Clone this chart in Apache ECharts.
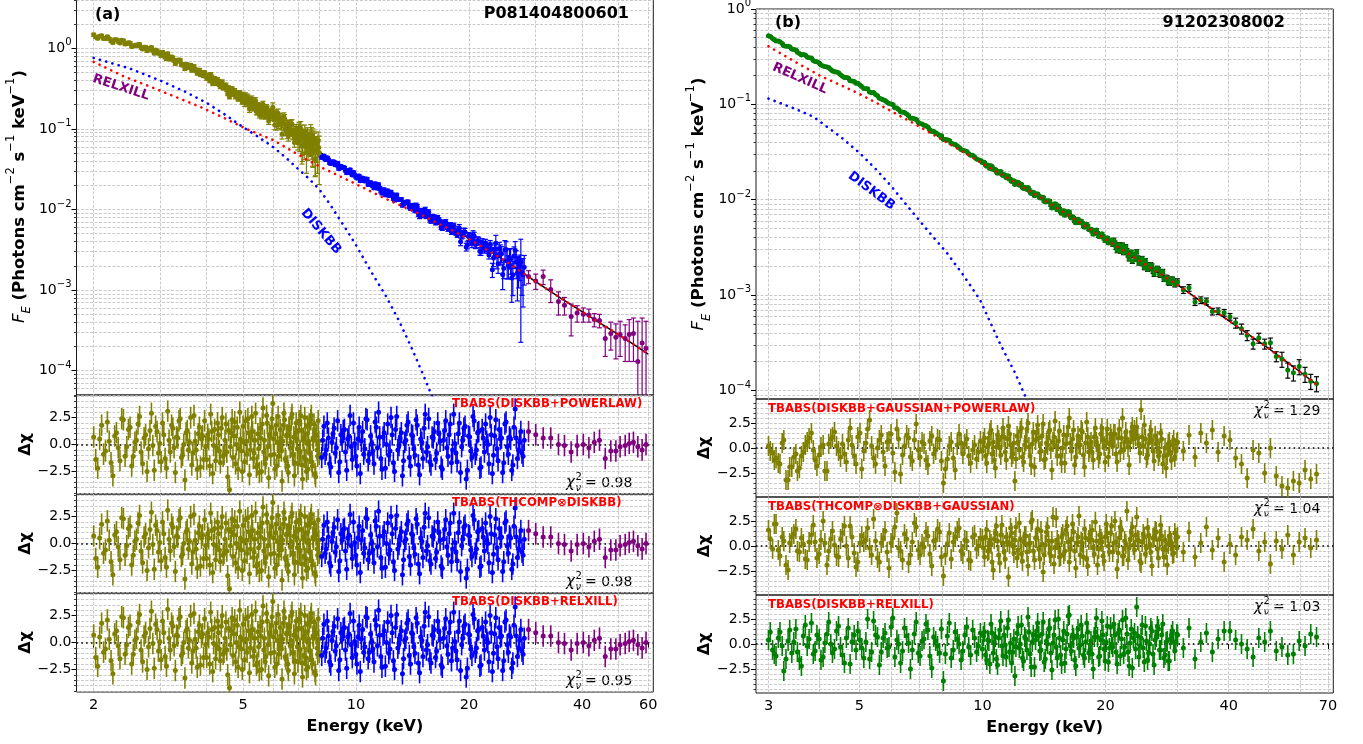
<!DOCTYPE html>
<html>
<head>
<meta charset="utf-8">
<title>Broadband spectra and fit residuals</title>
<script src="https://cdn.jsdelivr.net/npm/echarts@6/dist/echarts.min.js"></script>
<style>
  html, body { margin: 0; padding: 0; background: #ffffff; }
  #chart { width: 1363px; height: 744px; }
</style>
</head>
<body>
<div id="chart"></div>
<script>
// ===================== Panel (a): P081404800601 =====================
// Low-energy spectrum (olive): energy in keV, flux in photons cm^-2 s^-1 keV^-1
const A_OLIVE_E = [
  2.000,2.025,2.050,2.075,2.100,2.125,2.150,2.175,2.200,2.225,2.250,2.275,2.300,2.325,2.350,2.375,2.400,2.425,2.450,2.475,
  2.500,2.525,2.550,2.575,2.600,2.625,2.650,2.675,2.700,2.725,2.750,2.775,2.800,2.825,2.850,2.875,2.900,2.925,2.950,2.975,
  3.000,3.025,3.050,3.075,3.100,3.125,3.150,3.175,3.200,3.225,3.250,3.275,3.300,3.325,3.350,3.375,3.400,3.425,3.450,3.475,
  3.500,3.525,3.550,3.575,3.600,3.625,3.650,3.675,3.700,3.725,3.750,3.775,3.800,3.825,3.850,3.875,3.900,3.925,3.950,3.975,
  4.000,4.025,4.050,4.075,4.100,4.125,4.150,4.175,4.200,4.225,4.250,4.275,4.300,4.325,4.350,4.375,4.400,4.425,4.450,4.475,
  4.500,4.525,4.550,4.575,4.600,4.625,4.650,4.675,4.700,4.725,4.750,4.775,4.800,4.825,4.850,4.875,4.900,4.925,4.950,4.975,
  5.000,5.025,5.050,5.075,5.100,5.125,5.150,5.175,5.200,5.225,5.250,5.275,5.300,5.325,5.350,5.375,5.400,5.425,5.450,5.475,
  5.500,5.525,5.550,5.575,5.600,5.625,5.650,5.675,5.700,5.725,5.750,5.775,5.800,5.825,5.850,5.875,5.900,5.925,5.950,5.975,
  6.000,6.025,6.050,6.075,6.100,6.125,6.150,6.175,6.200,6.225,6.250,6.275,6.300,6.325,6.350,6.375,6.400,6.425,6.450,6.475,
  6.500,6.525,6.550,6.575,6.600,6.625,6.650,6.675,6.700,6.725,6.750,6.775,6.800,6.825,6.850,6.875,6.900,6.925,6.950,6.975,
  7.000,7.025,7.050,7.075,7.100,7.125,7.150,7.175,7.200,7.225,7.250,7.275,7.300,7.325,7.350,7.375,7.400,7.425,7.450,7.475,
  7.500,7.525,7.550,7.575,7.600,7.625,7.650,7.675,7.700,7.725,7.750,7.775,7.800,7.825,7.850,7.875,7.900,7.925,7.950,7.975];
const A_OLIVE_F = [
  1.475,1.38,1.332,1.407,1.432,1.325,1.32,1.389,1.31,1.23,1.178,1.28,1.274,1.216,1.165,1.261,1.243,1.128,1.144,1.175,
  1.165,1.052,1.065,1.087,1.081,1.11,1.118,1.02,0.981,1.031,1.028,0.933,0.974,1.002,1.024,0.938,0.87,0.95,0.925,0.867,
  0.874,0.814,0.89,0.847,0.778,0.743,0.853,0.774,0.734,0.778,0.76,0.709,0.649,0.708,0.694,0.715,0.708,0.627,0.621,0.63,
  0.559,0.63,0.623,0.582,0.585,0.616,0.533,0.544,0.595,0.547,0.526,0.49,0.535,0.534,0.47,0.5,0.497,0.456,0.499,0.457,
  0.427,0.461,0.447,0.397,0.471,0.437,0.367,0.402,0.42,0.368,0.38,0.408,0.385,0.357,0.336,0.374,0.382,0.326,0.323,0.335,
  0.349,0.309,0.275,0.323,0.251,0.295,0.306,0.314,0.27,0.288,0.298,0.251,0.266,0.279,0.235,0.251,0.281,0.252,0.238,0.216,
  0.261,0.236,0.208,0.257,0.228,0.208,0.248,0.228,0.176,0.202,0.215,0.235,0.215,0.183,0.187,0.198,0.224,0.164,0.165,0.194,
  0.177,0.15,0.192,0.18,0.146,0.189,0.202,0.159,0.168,0.145,0.148,0.184,0.176,0.153,0.125,0.159,0.157,0.139,0.16,0.165,
  0.186,0.147,0.129,0.112,0.147,0.153,0.111,0.133,0.156,0.116,0.123,0.137,0.128,0.114,0.086,0.119,0.132,0.14,0.133,0.099,
  0.095,0.113,0.113,0.087,0.081,0.113,0.11,0.095,0.098,0.114,0.115,0.086,0.084,0.095,0.068,0.076,0.095,0.1,0.088,0.081,
  0.0666,0.0937,0.1006,0.0747,0.0729,0.1018,0.0892,0.0609,0.0492,0.0783,0.0789,0.0638,0.0931,0.0799,0.0601,0.0511,0.0708,0.0819,0.0508,0.0697,
  0.081,0.0606,0.0602,0.0818,0.0838,0.0526,0.0491,0.0666,0.0647,0.0744,0.0691,0.0425,0.0402,0.0647,0.0648,0.0553,0.051,0.0714,0.0589,0.0509];
const A_OLIVE_ERR_PCT = [
  4,4,4,4,4,4,4,4,4,4,4,4,4,4,4,4,4,4,4,4, 4,4,4,4,4,4,4,4,4,4,4,4,4,4,4,4,4,4,4,4,
  5,5,5,5,5,5,5,5,5,5,5,5,5,5,5,5,5,5,5,5, 5,5,5,5,5,5,5,5,5,5,5,5,5,5,5,5,5,5,5,5,
  6,6,6,6,6,6,6,6,6,6,6,6,6,6,6,6,6,6,6,6, 6,6,6,6,6,6,6,6,6,6,6,6,6,6,6,6,6,6,6,6,
  9,9,9,9,9,9,9,9,9,9,9,9,9,9,9,9,9,9,9,9, 9,9,9,9,9,9,9,9,9,9,9,9,9,9,9,9,9,9,9,9,
  13,13,13,13,13,13,13,13,13,13,13,13,13,13,13,13,13,13,13,13, 13,13,13,13,13,13,13,13,13,13,13,13,13,13,13,13,13,13,13,13,
  18,22,20,30,19,21,25,40,20,18,22,35,20,24,19,45,21,26,20,30,
  20,25,22,38,24,20,30,50,22,26,28,40,35,24,22,30,45,28,24,60];
const A_OLIVE_RES = [
  0.7,-1.4,-2.2,0.5,1.8,-0.9,-0.6,2.1,0.3,-1.7,-2.9,0.8,1.1,-0.3,-1.5,2.4,2.3,-1.1,-0.2,1.4,
  1.6,-2.0,-1.1,0.2,0.4,1.9,2.6,-0.7,-1.8,0.6,0.9,-2.5,-0.4,1.3,2.9,-0.1,-2.4,1.7,1.2,-0.8,
  0.1,-1.6,2.0,0.9,-1.3,-2.2,3.1,0.4,-0.7,1.8,1.5,-0.3,-2.6,0.7,0.6,2.2,2.4,-1.2,-1.0,0.0,
  -3.3,1.1,1.3,-0.5,0.2,2.5,-1.9,-0.8,2.7,0.3,-0.5,-2.3,1.0,1.6,-2.1,0.5,0.8,-1.4,2.2,-0.2,
  -1.4,0.9,0.5,-2.0,2.8,1.2,-2.7,-0.1,1.4,-1.5,-0.3,2.0,0.9,-0.6,-1.7,1.5,2.5,-1.1,-0.9,0.4,
  1.9,-0.7,-3.0,1.3,-4.2,-0.2,1.1,2.3,-1.2,0.8,2.1,-1.8,0.0,1.6,-2.3,-0.4,3.0,0.5,-0.6,-2.5,
  1.7,0.2,-1.6,2.2,0.3,-0.9,2.4,1.1,-2.8,-0.5,0.7,2.6,1.2,-1.3,-0.8,0.4,2.9,-2.1,-1.9,1.0,
  -0.4,-2.6,1.5,0.6,-2.5,1.9,3.4,-0.7,0.4,-1.8,-1.3,2.7,2.0,-0.2,-3.1,0.9,0.8,-1.0,1.6,2.4,
  3.8,0.5,-0.9,-2.3,1.0,1.8,-2.0,0.2,2.6,-1.1,-0.2,1.4,0.6,-0.6,-3.4,0.3,1.8,2.9,2.3,-1.3,
  -1.5,0.8,0.9,-2.0,-2.6,1.6,1.4,-0.3,0.2,2.5,2.8,-0.9,-1.0,0.7,-2.9,-1.7,1.1,2.0,0.5,-0.4,
  -1.8,1.3,2.2,-0.6,-0.7,2.7,1.3,-1.9,-3.2,0.4,0.6,-1.2,2.5,1.0,-1.4,-2.5,0.1,1.7,-2.3,0.3,
  1.9,-0.8,-0.8,2.3,2.7,-1.6,-2.0,0.6,0.4,1.9,1.2,-2.7,-3.0,0.8,0.9,-0.5,-1.1,2.2,0.3,-0.9];

// Mid-energy spectrum (blue)
const A_BLUE_E = [
  8.10,8.15,8.21,8.27,8.33,8.38,8.44,8.50,8.56,8.62,8.68,8.74,8.80,8.86,8.93,8.99,9.05,9.11,9.18,9.24,
  9.31,9.37,9.44,9.50,9.57,9.64,9.71,9.77,9.84,9.91,9.98,10.05,10.12,10.19,10.26,10.33,10.41,10.48,10.55,10.62,
  10.70,10.77,10.85,10.93,11.01,11.08,11.16,11.24,11.32,11.40,11.48,11.56,11.64,11.72,11.80,11.88,11.97,12.05,12.14,12.22,
  12.31,12.39,12.48,12.57,12.66,12.74,12.83,12.92,13.01,13.10,13.20,13.29,13.38,13.47,13.57,13.66,13.76,13.86,13.96,14.05,
  14.15,14.25,14.35,14.45,14.55,14.65,14.76,14.86,14.97,15.07,15.18,15.28,15.39,15.50,15.61,15.72,15.83,15.94,16.05,16.16,
  16.28,16.39,16.50,16.62,16.74,16.85,16.97,17.09,17.21,17.33,17.45,17.57,17.70,17.82,17.95,18.07,18.20,18.32,18.45,18.58,
  18.71,18.84,18.98,19.11,19.24,19.37,19.51,19.65,19.79,19.93,20.07,20.21,20.35,20.49,20.63,20.77,20.92,21.07,21.22,21.37,
  21.52,21.67,21.82,21.97,22.13,22.28,22.44,22.59,22.75,22.91,23.07,23.23,23.40,23.56,23.73,23.89,24.06,24.23,24.40,24.57,
  24.74,24.91,25.09,25.26,25.44,25.62,25.80,25.98,26.16,26.34,26.53,26.71,26.90,27.09,27.28,27.47,27.66,27.85,28.05];
const A_BLUE_F = [
  0.0440,0.0452,0.0460,0.0420,0.0417,0.0438,0.0415,0.0381,0.0371,0.0389,0.0391,0.0389,0.0358,0.0356,0.0375,0.0322,0.0326,0.0343,0.0332,0.0335,
  0.0329,0.0305,0.0285,0.0304,0.0302,0.0311,0.0282,0.0268,0.0289,0.0270,0.0256,0.0245,0.0259,0.0261,0.0227,0.0243,0.0245,0.0227,0.0226,0.0239,
  0.0238,0.0205,0.0206,0.0215,0.0206,0.0197,0.0186,0.0208,0.0202,0.0185,0.0203,0.0184,0.0169,0.0160,0.0175,0.0175,0.0152,0.0162,0.0170,0.0151,
  0.0150,0.0164,0.0153,0.0137,0.0131,0.0147,0.0151,0.0133,0.0133,0.0133,0.0133,0.0113,0.0118,0.0122,0.0121,0.0124,0.0124,0.0108,0.0103,0.0112,
  0.0111,0.0103,0.0098,0.0112,0.0108,0.00884,0.00827,0.00964,0.00933,0.00849,0.00957,0.00995,0.00830,0.00835,0.00926,0.00750,0.00725,0.00811,0.00793,0.00800,
  0.00692,0.00701,0.00787,0.00738,0.00701,0.00608,0.00591,0.00667,0.00684,0.00699,0.00611,0.00576,0.00624,0.00642,0.00528,0.00552,0.00632,0.00549,0.00515,0.00485,
  0.00557,0.00586,0.00399,0.00483,0.00496,0.00527,0.00525,0.00343,0.00364,0.00466,0.00454,0.00404,0.00378,0.00490,0.00469,0.00367,0.00372,0.00412,0.00407,0.00304,
  0.00302,0.00391,0.00363,0.00323,0.00384,0.00337,0.00323,0.00273,0.00371,0.00326,0.00179,0.00250,0.00324,0.00382,0.00262,0.00212,0.00325,0.00284,0.00283,0.00156,
  0.00187,0.00316,0.00318,0.00230,0.00202,0.00253,0.00242,0.00141,0.00155,0.00264,0.00312,0.00223,0.00163,0.00183,0.00201,0.00225,0.00165,0.00154,0.00192];
const A_BLUE_ERR_PCT = [
  4,4,4,4,4,4,4,4,4,4,4,4,4,4,4,4,4,4,4,4, 4,4,4,4,4,4,4,4,4,4,4,4,4,4,4,4,4,4,4,4,
  5,5,5,5,5,5,5,5,5,5,5,5,5,5,5,5,5,5,5,5, 5,5,5,5,5,5,5,5,5,5,5,5,5,5,5,5,5,5,5,5,
  7,7,7,7,7,7,7,7,7,7,7,7,7,7,7,7,7,7,7,7, 7,7,7,7,7,7,7,7,7,7,7,7,7,7,7,7,7,7,7,7,
  11,11,11,11,11,11,11,11,11,11,11,11,11,11,11,11,11,11,11,11, 11,11,11,11,11,11,11,11,11,11,
  20,22,18,25,30,24,20,28,22,35,26,30,25,40,32,28,35,50,45,30,28,38,55,42,35,90,48,60,40];
const A_BLUE_RES = [
  -1.2,0.4,1.7,-0.9,-0.5,2.0,0.6,-1.8,-2.1,0.2, 1.0,1.5,-0.8,-0.3,2.2,-2.6,-1.6,0.9,0.3,1.3,
  1.4,-0.7,-2.4,0.5,0.8,2.7,-0.2,-1.4,2.0,0.1, -1.1,-2.0,0.5,1.6,-2.7,0.3,1.2,-0.9,-0.4,2.4,
  2.3,-1.5,-0.9,0.8,0.1,-0.6,-1.8,2.1,1.6,-0.3, 3.0,0.7,-1.3,-2.3,0.7,1.1,-2.2,0.0,1.9,-1.0,
  -0.6,2.5,0.9,-1.7,-2.5,1.4,2.6,-0.5,-0.1,0.6, 1.1,-2.9,-1.5,0.2,0.4,1.8,2.1,-1.2,-2.0,0.9,
  0.8,-0.4,-1.0,2.3,1.8,-1.9,-2.8,0.5,0.2,-1.3, 1.5,2.8,-0.7,-0.2,2.4,-1.6,-1.9,0.7,0.6,1.2,
  -1.4,-0.8,2.0,1.0,0.3,-2.1,-2.3,0.4,1.3,2.2, -0.3,-1.1,0.9,1.9,-1.7,-0.5,2.8,0.1,-0.8,-1.6,
  1.0,2.0,-2.6,-0.2,0.4,1.5,1.7,-3.2,-2.4,0.8, 0.7,-0.6,-1.2,2.6,2.2,-0.9,-0.5,1.1,1.2,-2.2,
  -2.1,1.4,0.6,-0.7,1.9,0.3,0.0,-1.8,2.5,0.9, -2.7,-1.0,0.8,2.3,-0.4,-1.5,1.4,0.5,0.6,-2.6,
  -1.7,1.9,2.1,-0.2,-0.9,0.7,0.5,-2.4,-1.9,1.6, 3.3,0.6,-1.3,-0.5,0.2,1.2,-0.8,-1.1,0.4];

// High-energy spectrum (purple); SIG is the 1-sigma flux error
const A_PURPLE_E = [28.8,30.1,31.5,33.0,34.6,35.9,37.4,38.8,40.3,41.7,43.1,44.5,46.1,47.7,49.2,50.5,52.1,53.4,54.8,56.3,57.8,59.2];
const A_PURPLE_F = [1.47e-3,1.30e-3,1.47e-3,1.02e-3,7.2e-4,6.5e-4,4.7e-4,5.2e-4,5.0e-4,4.9e-4,4.3e-4,4.2e-4,2.5e-4,2.9e-4,2.6e-4,2.8e-4,2.5e-4,2.8e-4,2.9e-4,1.3e-4,2.2e-4,1.9e-4];
const A_PURPLE_SIG = [2.7e-4,2.8e-4,3.0e-4,3.2e-4,2.3e-4,1.6e-4,2.0e-4,1.2e-4,1.0e-4,0.9e-4,0.8e-4,0.8e-4,1.0e-4,1.1e-4,1.2e-4,1.3e-4,1.2e-4,1.5e-4,1.6e-4,2.8e-4,2.3e-4,2.2e-4];
const A_PURPLE_RES = [1.2,0.9,0.6,0.6,0.0,-0.1,-0.7,-0.1,0.0,-0.3,0.2,0.4,-1.3,-0.6,-0.6,-0.2,-0.1,0.1,0.2,-0.2,-0.5,0.0];

// Model curves for panel (a)
const A_TOTAL_E = [2.0,2.5,3.0,3.5,4.0,4.5,5.0,5.5,6.0,6.5,7.0,7.5,8.0,9.0,10,12,15,20,25,30,35,40,45,50,55,60];
const A_TOTAL_F = [1.44,1.12,0.87,0.62,0.45,0.33,0.237,0.181,0.143,0.108,0.083,0.067,0.052,0.034,0.026,0.0162,0.0090,0.0044,0.0023,0.00128,0.00080,0.00054,0.00038,0.00028,0.00021,0.00016];
const A_RELXILL_E = [2.0,2.4,2.83,3.3,3.84,4.4,5.1,6.0,6.9,8.0,9.5,11.9,15,20,25,30,35,40,45,50,55,60];
const A_RELXILL_F = [0.68,0.45,0.334,0.25,0.188,0.14,0.10,0.073,0.050,0.034,0.0232,0.0138,0.0085,0.0043,0.0023,0.00128,0.00080,0.00054,0.00038,0.00028,0.00021,0.00016];
const A_DISKBB_E = [2.0,2.5,3.0,3.5,4.0,4.5,5.0,5.5,6.0,6.5,7.0,7.5,8.0,8.5,9.0,9.5,10,11,12,13,14,15,16];
const A_DISKBB_F = [0.76,0.56,0.40,0.29,0.21,0.148,0.105,0.079,0.060,0.044,0.032,0.024,0.0175,0.0118,0.0078,0.0053,0.0036,0.00165,0.00085,0.00042,0.00020,0.000095,0.000046];

const A_MODEL_NAMES = ['TBABS(DISKBB+POWERLAW)', 'TBABS(THCOMP\u2297DISKBB)', 'TBABS(DISKBB+RELXILL)'];
const A_CHI2 = ['0.98', '0.98', '0.95'];

// ===================== Panel (b): 91202308002 =====================
const B_E = [
  3.00,3.03,3.07,3.10,3.13,3.17,3.20,3.24,3.27,3.31,3.35,3.38,3.42,3.46,3.50,3.53,3.57,3.61,3.65,3.69,
  3.73,3.77,3.82,3.86,3.90,3.94,3.99,4.03,4.08,4.12,4.17,4.21,4.26,4.30,4.35,4.40,4.45,4.50,4.55,4.60,
  4.65,4.70,4.75,4.80,4.86,4.91,4.96,5.02,5.07,5.13,5.19,5.24,5.30,5.36,5.42,5.48,5.54,5.60,5.66,5.72,
  5.78,5.85,5.91,5.98,6.04,6.11,6.18,6.24,6.31,6.38,6.45,6.53,6.60,6.67,6.74,6.82,6.89,6.97,7.04,7.12,
  7.20,7.28,7.36,7.44,7.52,7.60,7.69,7.77,7.86,7.94,8.03,8.12,8.21,8.30,8.39,8.49,8.58,8.68,8.77,8.87,
  8.96,9.06,9.16,9.26,9.36,9.47,9.57,9.68,9.78,9.89,
  10.00,10.06,10.12,10.18,10.25,10.31,10.37,10.43,10.50,10.56,10.63,10.69,10.76,10.82,10.89,10.96,11.03,11.09,11.16,11.23,
  11.30,11.37,11.44,11.51,11.58,11.65,11.72,11.79,11.87,11.94,12.01,12.08,12.16,12.23,12.31,12.38,12.46,12.53,12.61,12.69,
  12.77,12.85,12.93,13.00,13.08,13.16,13.24,13.32,13.41,13.49,13.57,13.65,13.74,13.82,13.91,13.99,14.08,14.16,14.25,14.34,
  14.43,14.52,14.61,14.70,14.79,14.88,14.97,15.06,15.15,15.24,15.34,15.43,15.53,15.62,15.72,15.81,15.91,16.01,16.11,16.21,
  16.31,16.41,16.51,16.61,16.71,16.81,16.92,17.02,17.13,17.23,17.34,17.44,17.55,17.66,17.77,17.88,17.99,18.10,18.21,18.32,
  18.43,18.54,18.66,18.77,18.89,19.00,19.12,19.24,19.36,19.48,19.60,19.72,19.84,19.96,20.08,20.20,20.33,20.45,20.58,20.70,
  20.83,20.96,21.09,21.22,21.35,21.48,21.61,21.74,21.88,22.01,22.15,22.28,22.42,22.56,22.70,22.84,22.98,23.12,23.26,23.40,
  23.55,23.69,23.84,23.98,24.13,24.28,24.43,24.58,24.73,24.88,25.04,25.19,25.34,25.50,25.66,25.81,25.97,26.13,26.29,26.45,
  26.62,26.78,26.95,27.11,27.28,27.44,27.61,27.78,27.96,28.13,28.30,28.47,28.65,28.82,29.00,29.18,29.36,29.54,29.72,29.90,
  30.0,31.0,32.0,33.1,34.2,35.3,36.5,37.7,39.0,40.3,41.6,43.0,44.4,45.9,47.4,49.0,50.6,52.3,54.0,55.8,
  57.6,59.5,61.5,63.5,65.6];
const B_F = [
  0.523,0.514,0.491,0.476,0.463,0.461,0.453,0.435,0.411,0.407,0.406,0.401,0.380,0.375,0.372,0.352,0.341,0.330,0.334,0.329,
  0.313,0.308,0.306,0.288,0.282,0.280,0.272,0.258,0.253,0.250,0.247,0.244,0.232,0.224,0.220,0.218,0.215,0.204,0.197,0.191,
  0.191,0.189,0.177,0.176,0.174,0.166,0.166,0.160,0.154,0.147,0.146,0.146,0.135,0.132,0.133,0.127,0.123,0.116,0.114,0.112,
  0.110,0.105,0.102,0.101,0.0994,0.0921,0.0914,0.0883,0.0837,0.0825,0.0822,0.0792,0.0761,0.0717,0.0713,0.0705,0.0694,0.0650,0.0629,0.0621,
  0.0605,0.0598,0.0577,0.0542,0.0519,0.0522,0.0505,0.0488,0.0470,0.0469,0.0427,0.0429,0.0426,0.0419,0.0390,0.0383,0.0380,0.0366,0.0353,0.0336,
  0.0330,0.0327,0.0320,0.0304,0.0292,0.0292,0.0281,0.0268,0.0262,0.0258,
  0.0245,0.0248,0.0246,0.0231,0.0225,0.0231,0.0227,0.0213,0.0227,0.0220,0.0208,0.0209,0.0208,0.0196,0.0190,0.0198,0.0198,0.0198,0.0185,0.0179,
  0.0184,0.0177,0.0170,0.0178,0.0177,0.0164,0.0164,0.0155,0.0156,0.0158,0.0144,0.0151,0.0152,0.0152,0.0143,0.0142,0.0145,0.0134,0.0131,0.0135,
  0.0133,0.0128,0.0134,0.0128,0.0121,0.0116,0.0120,0.0120,0.0110,0.0115,0.0115,0.0115,0.0110,0.0105,0.0104,0.0106,0.0106,0.00965,0.00954,0.00973,
  0.00951,0.00977,0.00964,0.00881,0.00821,0.00878,0.00883,0.00907,0.00825,0.00784,0.00864,0.00805,0.00752,0.00719,0.00761,0.00768,0.00686,0.00704,0.00725,0.00750,
  0.00739,0.00665,0.00644,0.00664,0.00647,0.00595,0.00574,0.00620,0.00622,0.00578,0.00573,0.00597,0.00569,0.00529,0.00515,0.00532,0.00553,0.00529,0.00489,0.00485,
  0.00490,0.00464,0.00435,0.00472,0.00471,0.00482,0.00449,0.00415,0.00410,0.00423,0.00439,0.00415,0.00392,0.00371,0.00387,0.00398,0.00352,0.00361,0.00377,0.00353,
  0.00343,0.00376,0.00351,0.00317,0.00293,0.00337,0.00336,0.00290,0.00312,0.00335,0.00279,0.00285,0.00321,0.00293,0.00264,0.00240,0.00267,0.00281,0.00226,0.00261,
  0.00263,0.00238,0.00284,0.00245,0.00217,0.00226,0.00232,0.00242,0.00213,0.00194,0.00229,0.00209,0.00187,0.00190,0.00196,0.00208,0.00202,0.00178,0.00165,0.00185,
  0.00184,0.00191,0.00185,0.00164,0.00161,0.00170,0.00177,0.00147,0.00146,0.00154,0.00152,0.00135,0.00133,0.00146,0.00146,0.00147,0.00137,0.00128,0.00132,0.00135,
  0.00137,0.00113,0.00119,0.000845,0.000886,0.000861,0.000672,0.000678,0.000654,0.000593,0.000511,0.000443,0.000378,0.000308,0.000355,0.000308,0.000316,0.000227,0.000213,0.000164,
  0.000153,0.000178,0.000148,0.000125,0.000118];
const B_ERR_PCT = [
  1,1,1,1,1,1,1,1,1,1,1,1,1,1,1,1,1,1,1,1, 1,1,1,1,1,1,1,1,1,1,1,1,1,1,1,1,1,1,1,1, 1,1,1,1,1,1,1,1,1,1,1,1,1,1,1,1,1,1,1,1,
  1.5,1.5,1.5,1.5,1.5,1.5,1.5,1.5,1.5,1.5,1.5,1.5,1.5,1.5,1.5,1.5,1.5,1.5,1.5,1.5, 1.5,1.5,1.5,1.5,1.5,1.5,1.5,1.5,1.5,1.5,1.5,1.5,1.5,1.5,1.5,1.5,1.5,1.5,1.5,1.5,
  1.5,1.5,1.5,1.5,1.5,1.5,1.5,1.5,1.5,1.5,
  2,2,2,2,2,2,2,2,2,2,2,2,2,2,2,2,2,2,2,2, 2,2,2,2,2,2,2,2,2,2,2,2,2,2,2,2,2,2,2,2, 2,2,2,2,2,2,2,2,2,2,2,2,2,2,2,2,2,2,2,2,
  3,3,3,3,3,3,3,3,3,3,3,3,3,3,3,3,3,3,3,3, 3,3,3,3,3,3,3,3,3,3,3,3,3,3,3,3,3,3,3,3, 3,3,3,3,3,3,3,3,3,3,3,3,3,3,3,3,3,3,3,3,
  5,5,5,5,5,5,5,5,5,5,5,5,5,5,5,5,5,5,5,5, 5,5,5,5,5,5,5,5,5,5,5,5,5,5,5,5,5,5,5,5, 5,5,5,5,5,5,5,5,5,5,5,5,5,5,5,5,5,5,5,5,
  8,8,8,8,8,8,8,8,8,8, 12,12,12,12,12,12,12,12, 18,18,18,18,18,18,18];
const B_RES1 = [
  0.2,-0.3,-0.5,-1.2,-1.0,-1.5,-1.6,0.5,0.8,-3.2, -3.2,-1.9,-1.9,-0.9,-0.6,-2.3,-2.0,-0.8,-0.4,0.3,
  0.6,1.0,1.5,-0.2,-1.2,-1.8,-0.7,0.1,0.3,-2.3, -2.3,0.4,0.9,1.1,1.6,0.2,-0.3,-0.9,0.4,-0.6,
  -1.4,0.8,2.0,0.3,-0.8,-1.6,1.1,1.5,-2.1,-0.3, 0.5,1.9,2.8,0.2,-1.0,-1.6,0.0,0.8,1.3,-0.4,
  -1.8,0.6,0.7,1.4,-0.5,-2.4,1.9,0.9,-2.6,-0.7, 0.2,1.3,1.0,-0.9,-1.3,0.8,2.4,-0.2,-0.9,0.6,
  0.4,-1.2,-1.7,0.7,1.2,-0.6,-0.2,0.9,0.8,-1.3, -3.5,-2.1,-1.1,0.2,0.6,-1.0,-2.2,0.3,1.4,0.5,
  -0.6,0.4,0.9,-0.8,-1.5,-0.2,0.3,-1.1,-0.4,0.7,
  -0.3,0.6,1.0,-0.8,-1.5,0.2,0.4,1.5,1.8,-0.6, 0.6,-1.2,-2.0,0.1,1.3,0.8,0.0,-0.7,1.1,2.0,
  1.1,-0.4,-1.2,0.9,2.2,1.4,0.3,-0.9,-0.6,0.5, -3.3,-1.1,1.2,0.6,-0.2,1.7,2.0,-0.9,-1.4,0.3,
  0.7,1.9,2.5,0.1,-0.8,-1.7,0.4,1.6,-1.9,0.8, 1.5,2.3,1.0,-0.4,-0.3,1.2,2.4,-1.2,-1.1,0.5,
  0.3,1.6,1.8,-0.1,-2.2,0.6,1.1,2.7,0.2,-0.8, 0.7,1.7,-0.8,-1.5,0.0,1.3,-1.5,0.4,1.3,2.1,
  3.0,0.5,-0.3,0.9,1.8,-1.7,-0.9,0.3,1.2,0.4, 0.3,1.8,1.6,-0.7,-1.9,0.5,2.6,1.1,-0.4,0.0,
  0.6,-0.4,-1.2,1.1,2.0,0.6,0.2,-1.0,-0.6,1.4, 2.0,0.8,0.2,-1.4,0.7,1.9,-0.9,0.4,1.4,0.9,
  0.2,1.4,1.4,-0.6,-1.4,1.0,1.9,-0.4,1.0,3.0, -0.2,0.6,1.6,0.9,0.1,-1.7,0.6,1.6,2.1,0.9,
  1.8,1.2,2.1,1.0,0.4,-0.5,3.8,1.1,0.2,2.3, 0.9,-1.0,-0.7,0.5,1.3,1.8,0.8,-0.3,-1.3,1.2,
  0.4,0.7,-0.8,-0.4,1.5,0.9,-1.6,-0.8,0.0,-2.0, -0.7,0.4,0.6,-0.5,-1.2,0.3,0.8,-0.9,-0.3,0.5,
  0.6,-0.3,1.3,-0.9,1.5,0.5,1.8,-0.4,1.2,0.8,-1.0,-1.6,-3.0,-0.2,-0.5,-2.5,0.0,-2.8,-3.8,-4.0,
  -3.3,-3.5,-2.2,-3.1,-2.6];
const B_RES2 = [
  1.6,0.7,-0.3,2.2,2.2,-0.4,-1.0,0.9,0.5,-1.9, -2.4,0.3,0.9,1.2,1.7,-0.5,-0.6,0.8,0.2,-1.3,
  -1.4,0.4,1.1,2.1,0.4,-1.2,-0.8,0.6,2.5,0.3, -1.9,-0.5,0.7,1.5,0.1,-1.0,-1.1,0.7,1.3,2.0,
  0.0,-1.2,2.0,0.9,-0.7,-2.1,-1.6,0.3,1.0,0.4, 0.6,1.8,-0.2,-0.9,2.7,0.5,-1.2,-1.6,0.3,0.8,
  1.5,-0.6,-2.2,0.3,0.8,1.9,3.3,-0.2,-0.5,-1.4, 1.2,0.7,-1.7,-0.9,0.4,2.3,1.9,-0.4,-0.9,0.2,
  -0.1,1.4,1.0,-0.8,-2.0,0.5,0.6,1.7,1.4,-1.1, -3.0,-0.9,0.2,1.3,-1.3,0.4,0.9,1.5,1.8,-0.5,
  -0.8,0.6,0.5,-1.4,-1.5,0.9,1.1,-0.3,0.0,0.8,
  0.7,-0.2,-1.1,0.9,1.6,-0.5,-0.4,0.6,0.2,-1.6, -2.4,0.7,1.3,2.0,0.5,-0.9,-1.7,1.1,2.1,0.3,
  -0.6,-1.3,0.9,0.4,-3.1,0.2,1.8,1.3,0.0,-0.7, 0.6,1.9,-1.2,-0.4,2.3,0.7,-0.8,-1.5,0.4,1.0,
  1.0,-0.6,-2.0,0.2,0.3,2.4,2.6,-0.5,-1.4,0.8, 0.8,1.7,-0.3,-1.3,1.5,0.2,-2.6,-0.9,0.1,1.4,
  1.9,0.5,-0.7,-1.0,0.5,2.9,-1.8,-0.2,2.8,0.6, 0.2,-1.1,-1.0,0.9,1.2,-0.8,-0.5,1.6,2.0,0.4,
  -1.6,-0.3,0.7,2.2,1.4,-0.5,-2.2,0.3,0.9,3.0, -0.9,0.4,0.3,-1.1,1.7,0.8,-1.3,-2.0,0.6,1.2,
  0.6,1.6,-0.2,-0.8,2.4,0.5,-1.9,-0.3,1.1,0.7, 0.4,-1.0,-1.5,0.9,2.2,1.3,0.0,-0.6,1.3,2.0,
  -0.6,0.3,2.5,0.4,-2.3,-0.7,0.8,1.9,1.6,-1.0, -1.0,0.5,0.2,3.5,-1.4,-0.2,0.7,1.4,1.9,0.1,
  -0.4,1.1,2.9,0.6,0.5,-1.5,-1.7,0.4,1.2,0.9, -0.8,-0.2,1.8,1.1,0.1,-0.6,-2.0,0.8,0.9,1.5,
  1.4,-0.3,-1.2,0.7,2.1,1.0,-0.3,-1.1,0.6,-0.4, -1.9,0.2,1.0,0.5,0.3,-0.8,-0.7,1.3,0.8,-0.2,
  0.9,-0.6,1.4,-1.1,0.3,1.9,-0.4,0.8,-1.6,0.2,-0.9,0.9,0.6,1.7,-0.5,0.4,-1.8,0.5,-0.3,1.1,
  -0.9,0.4,0.8,-0.2,0.6];
const B_RES3 = [
  0.4,1.2,-0.6,-1.0,-1.2,0.6,1.2,-0.2,-2.7,-1.5, 0.3,1.4,-0.9,0.2,1.5,-0.8,-1.6,-2.2,0.8,1.9,
  -0.2,0.5,2.1,-1.0,-0.7,0.9,0.5,-1.6,-1.3,0.1, 1.0,2.2,0.0,-0.9,-0.5,1.3,1.8,-0.3,-1.1,-1.9,
  0.6,1.6,-2.0,0.2,0.9,-0.6,1.3,0.4,-0.4,-1.4, 0.2,2.5,-1.5,-0.8,2.3,0.9,0.7,-2.1,-0.8,0.6,
  1.1,-0.4,-0.3,1.7,2.6,-1.3,0.4,0.0,-1.9,-0.7, 1.6,0.8,0.1,-2.5,-0.6,1.0,2.2,-0.9,-1.2,0.3,
  0.5,2.0,1.4,-1.2,-2.4,0.7,0.3,-0.2,-0.9,1.5, -3.7,-1.0,0.8,2.1,-1.4,-0.6,1.2,0.5,0.0,-1.6,
  -0.7,0.9,1.7,-0.3,-1.1,1.4,0.6,-0.8,-0.2,1.1,
  -0.5,0.8,1.2,-1.1,-1.6,0.4,0.3,-2.0,2.0,1.1, -0.9,0.2,0.7,-1.5,-2.1,0.6,1.4,2.3,-0.2,-1.2,
  0.9,-0.1,-1.3,1.6,2.4,-0.8,0.1,-1.9,-0.8,0.5, -3.2,-0.3,1.1,1.8,-0.4,0.0,1.9,-1.4,-1.7,0.7,
  0.5,-0.6,2.7,1.2,-1.0,-2.3,0.2,0.9,-2.3,0.4, 1.3,2.1,0.8,-0.7,-0.6,1.0,2.2,-1.8,-1.5,0.3,
  0.0,1.5,1.6,-0.9,-2.6,0.1,0.9,2.4,-0.3,-1.4, 2.5,0.6,-1.1,-2.0,0.4,1.3,-1.9,-0.5,1.0,2.8,
  2.9,-0.2,-0.7,0.9,0.6,-1.6,-2.2,0.8,1.5,-0.4, -0.1,1.9,0.8,-1.1,-1.4,0.2,2.1,1.2,-0.9,-0.6,
  0.3,-1.0,-2.5,0.7,1.2,2.6,0.7,-1.3,-1.2,0.4, 2.3,0.9,-0.5,-1.7,0.2,1.8,-1.8,-0.4,1.7,0.0,
  -0.3,2.0,0.9,-0.8,-2.0,1.1,1.4,-1.2,0.5,2.4, -1.0,-0.3,2.6,1.0,-0.8,-2.2,0.1,1.5,-2.4,0.6,
  1.1,-0.5,3.7,0.8,-1.3,-0.2,0.6,1.9,-0.4,-1.8, 1.8,0.3,-1.6,-0.9,0.0,1.6,1.3,-1.0,-2.1,0.4,
  0.7,1.8,1.5,-0.6,-0.6,0.9,2.0,-1.4,-1.1,0.2, 0.3,-1.7,-1.7,0.5,0.9,1.3,0.2,-0.7,0.2,1.0,
  0.9,-0.4,1.6,-1.5,0.2,1.1,-0.8,0.5,1.3,1.3,0.4,0.0,-0.5,-1.3,0.6,0.2,1.3,-0.7,-0.3,-1.1,
  -1.0,0.3,-0.2,1.0,0.7];

// Model curves for panel (b)
const B_TOTAL_E = [3,3.5,4,4.5,5,5.5,6,7,8,9,10,12,14,17,20,25,30,40,50,60,66];
const B_TOTAL_F = [0.52,0.365,0.268,0.205,0.160,0.1245,0.0983,0.0649,0.0453,0.0330,0.0248,0.0154,0.0103,0.00605,0.00387,0.0021,0.00128,0.00054,0.000277,0.000155,0.000113];
const B_RELXILL_E = [3,3.5,4,4.5,5,5.5,6,7,8,9,10,12,14,17,20,25,30,40,50,60,66];
const B_RELXILL_F = [0.407,0.276,0.201,0.159,0.129,0.104,0.0843,0.0589,0.0422,0.0315,0.024,0.0153,0.0103,0.00605,0.00387,0.0021,0.00128,0.00054,0.000277,0.000155,0.000113];
const B_DISKBB_E = [3.0,3.5,3.86,4.5,5.02,5.5,5.95,6.77,7.5,8.19,9.0,9.87,11.04,12.0,12.85,13.5];
const B_DISKBB_F = [0.115,0.089,0.0743,0.0457,0.0307,0.0207,0.0143,0.00727,0.0043,0.00277,0.0016,0.00089,0.00031,0.000155,0.000079,0.000045];

const B_MODEL_NAMES = ['TBABS(DISKBB+GAUSSIAN+POWERLAW)', 'TBABS(THCOMP\u2297DISKBB+GAUSSIAN)', 'TBABS(DISKBB+RELXILL)'];
const B_CHI2 = ['1.29', '1.04', '1.03'];

// Axis tick positions (keV for x, log10 decade for spectrum y, delta-chi for residuals)
const A_X_TICKS = [2, 5, 10, 20, 40, 60];
const A_X_MINOR = [3, 4, 6, 7, 8, 9, 30, 50];
const B_X_TICKS = [3, 5, 10, 20, 40, 70];
const B_X_MINOR = [4, 6, 7, 8, 9, 30, 50, 60];
const LOG_Y_TICKS = [-4, -3, -2, -1, 0];
const RES_Y_TICKS = [-2.5, 0, 2.5];
const RES_Y_MINOR = [-4.5, -4, -3.5, -3, -2, -1.5, -1, -0.5, 0.5, 1, 1.5, 2, 3, 3.5, 4, 4.5];

// ===================== drawing =====================
const lg = Math.log10;
const FONT = 'DejaVu Sans';
const OLIVE = '#808000', BLUE = '#0000ff', PURPLE = '#800080', GREEN = '#008000', RED = '#ff0000', BLACK = '#000000';

const LOG_Y_MINOR = [];
for (let n = -5; n <= 0; n++) for (let k = 2; k <= 9; k++) LOG_Y_MINOR.push(n + lg(k));

const PANELS = [
  { left: 76.5, width: 576.8, xRange: [1.80, 61.9], xTicks: A_X_TICKS, xMinor: A_X_MINOR,
    specTop: -2, specHeight: 397, specY: [-4.302, 0.624], resTops: [395, 494, 593], resHeight: 99, resY: [-4.6, 4.6] },
  { left: 756, width: 577.3, xRange: [2.796, 72.1], xTicks: B_X_TICKS, xMinor: B_X_MINOR,
    specTop: 9, specHeight: 390, specY: [-4.09, 0], resTops: [399, 497, 595], resHeight: 98, resY: [-4.9, 4.9] }
];

const SPLIT = { show: true, lineStyle: { color: '#bdbdbd', width: 0.8, type: [3, 1.5] } };
const TICK_STYLE = { color: BLACK, width: 1 };

const grids = [], xAxes = [], yAxes = [];

function addGrid(panel, top, height, kind, labelled) {
  const gi = grids.length;
  grids.push({ left: panel.left, top: top, width: panel.width, height: height, show: true,
    borderColor: '#1a1a1a', borderWidth: 1, backgroundColor: 'transparent', containLabel: false, outerBoundsMode: 'none' });
  const xBase = { type: 'value', gridIndex: gi, position: 'bottom', min: lg(panel.xRange[0]), max: lg(panel.xRange[1]),
    axisLine: { show: false }, splitLine: SPLIT };
  const xMaj = panel.xTicks.map(lg), xMin = panel.xMinor.map(lg);
  xAxes.push(Object.assign({}, xBase, {
    axisTick: { show: labelled, customValues: xMaj, length: 5, lineStyle: TICK_STYLE },
    axisLabel: { show: labelled, customValues: xMaj, formatter: v => String(Math.round(Math.pow(10, v))),
      fontSize: 14.5, color: BLACK, fontFamily: FONT, margin: 6 },
    name: labelled ? 'Energy (keV)' : '', nameLocation: 'middle', nameGap: 27,
    nameTextStyle: { fontSize: 16, fontWeight: 'bold', color: BLACK, fontFamily: FONT }
  }));
  xAxes.push(Object.assign({}, xBase, {
    axisTick: { show: labelled, customValues: xMin, length: 2.5, lineStyle: { color: BLACK, width: 0.8 } },
    axisLabel: { show: false, customValues: xMin }
  }));

  if (kind === 'spec') {
    const yBase = { type: 'value', gridIndex: gi, position: 'left', min: panel.specY[0], max: panel.specY[1],
      axisLine: { show: false }, splitLine: SPLIT };
    yAxes.push(Object.assign({}, yBase, {
      axisTick: { show: true, customValues: LOG_Y_TICKS, length: 5, lineStyle: TICK_STYLE },
      axisLabel: { show: true, customValues: LOG_Y_TICKS, margin: 5,
        formatter: v => '{m|10}{e|' + (v === 0 ? '0' : '\u2212' + Math.abs(v)) + '}',
        rich: {
          m: { fontSize: 14, fontFamily: FONT, color: BLACK, lineHeight: 20, verticalAlign: 'middle' },
          e: { fontSize: 10, fontFamily: FONT, color: BLACK, height: 9, verticalAlign: 'top' }
        } },
      name: '{i|F}{s|E}{b| (Photons cm}{p|\u22122}{b| s}{p|\u22121}{b| keV}{p|\u22121}{b|)}',
      nameLocation: 'middle', nameRotate: 90, nameGap: 44,
      nameTextStyle: { rich: {
        i: { fontFamily: FONT, fontStyle: 'italic', fontSize: 16.5, color: BLACK, lineHeight: 26, verticalAlign: 'middle' },
        s: { fontFamily: FONT, fontStyle: 'italic', fontSize: 11.5, color: BLACK, height: 10, verticalAlign: 'bottom' },
        b: { fontFamily: FONT, fontWeight: 'bold', fontSize: 16.5, color: BLACK, lineHeight: 26, verticalAlign: 'middle' },
        p: { fontFamily: FONT, fontSize: 11.5, color: BLACK, height: 10, verticalAlign: 'top' }
      } }
    }));
    yAxes.push(Object.assign({}, yBase, {
      axisTick: { show: true, customValues: LOG_Y_MINOR, length: 2.5, lineStyle: { color: BLACK, width: 0.8 } },
      axisLabel: { show: false, customValues: LOG_Y_MINOR }
    }));
  } else {
    const yBase = { type: 'value', gridIndex: gi, position: 'left', min: panel.resY[0], max: panel.resY[1],
      axisLine: { show: false }, splitLine: SPLIT };
    yAxes.push(Object.assign({}, yBase, {
      axisTick: { show: true, customValues: RES_Y_TICKS, length: 5, lineStyle: TICK_STYLE },
      axisLabel: { show: true, customValues: RES_Y_TICKS, margin: 5, fontSize: 14, color: BLACK, fontFamily: FONT,
        formatter: v => v === 0 ? '0.0' : (v < 0 ? '\u2212' : '') + Math.abs(v).toFixed(1) },
      name: '\u0394\u03c7', nameLocation: 'middle', nameRotate: 90, nameGap: 43,
      nameTextStyle: { fontFamily: FONT, fontWeight: 'bold', fontSize: 16, color: BLACK }
    }));
    yAxes.push(Object.assign({}, yBase, {
      axisTick: { show: true, customValues: RES_Y_MINOR, length: 2.5, lineStyle: { color: BLACK, width: 0.8 } },
      axisLabel: { show: false, customValues: RES_Y_MINOR }
    }));
  }
  return gi;
}

// error bar renderer: vertical bar from dim 2 to dim 3, optional caps
function barRenderer(color, cap, width) {
  return function (params, api) {
    const x = api.value(0);
    const c = api.coord([x, api.value(1)]);
    const lo = api.coord([x, api.value(2)]);
    const hi = api.coord([x, api.value(3)]);
    const st = () => ({ stroke: color, lineWidth: width, fill: null });
    const kids = [{ type: 'line', shape: { x1: c[0], y1: lo[1], x2: c[0], y2: hi[1] }, style: st() }];
    if (cap > 0) {
      kids.push({ type: 'line', shape: { x1: c[0] - cap, y1: lo[1], x2: c[0] + cap, y2: lo[1] }, style: st() });
      kids.push({ type: 'line', shape: { x1: c[0] - cap, y1: hi[1], x2: c[0] + cap, y2: hi[1] }, style: st() });
    }
    return { type: 'group', children: kids };
  };
}

function specData(E, F, sig) {
  return E.map((e, i) => {
    const lo = F[i] - sig[i];
    return [lg(e), lg(F[i]), lo > 0 ? lg(lo) : -99, lg(F[i] + sig[i])];
  });
}
const pctToSig = (F, P) => F.map((f, i) => f * P[i] / 100);
const resData = (E, R) => E.map((e, i) => [lg(e), R[i], R[i] - 1, R[i] + 1]);

function pointSeries(gi, data, markColor, barColor, cap, barWidth, zeroLine) {
  const z = 3;
  const bars = { type: 'custom', xAxisIndex: gi * 2, yAxisIndex: gi * 2, data: data,
    renderItem: barRenderer(barColor, cap, barWidth), clip: true, silent: true, z: z, animation: false };
  if (zeroLine) {
    bars.markLine = { silent: true, symbol: ['none', 'none'], z: 1, animation: false, label: { show: false },
      lineStyle: { color: BLACK, width: 1.6, type: [1.6, 3.2] }, data: [{ yAxis: 0 }] };
  }
  const marks = { type: 'scatter', xAxisIndex: gi * 2, yAxisIndex: gi * 2, data: data.map(d => [d[0], d[1]]),
    symbol: 'circle', symbolSize: 5, itemStyle: { color: markColor, opacity: 1 }, clip: true, silent: true,
    z: z + 1, animation: false };
  return [bars, marks];
}

function modelLine(gi, E, F, color, dotted) {
  return { type: 'line', xAxisIndex: gi * 2, yAxisIndex: gi * 2, data: E.map((e, i) => [lg(e), lg(F[i])]),
    showSymbol: false, symbol: 'none', clip: true, silent: true, animation: false, z: dotted ? 8 : 2,
    lineStyle: dotted ? { color: color, width: 2.6, type: [0.1, 6.4], cap: 'round' } : { color: color, width: 1.5 } };
}

const series = [];
const graphics = [];

function label(x, y, text, font, fill, align, rot) {
  return { type: 'text', x: x, y: y, rotation: rot || 0, silent: true, z: 100,
    style: { text: text, font: font, fill: fill, align: align || 'left', verticalAlign: 'middle',
      textAlign: align || 'left', textVerticalAlign: 'middle' } };
}
function chiLabel(x, y, value) {
  const f = (t, font, dx, dy) => ({ type: 'text', x: dx, y: dy, silent: true,
    style: { text: t, font: font, fill: BLACK, align: 'left', verticalAlign: 'middle', textAlign: 'left', textVerticalAlign: 'middle' } });
  return { type: 'group', x: x, y: y, z: 100, silent: true, children: [
    f('\u03c7', 'italic 15px "DejaVu Sans"', 0, 0),
    f('2', '10px "DejaVu Sans"', 9.5, -6),
    f('\u03bd', 'italic 10px "DejaVu Sans"', 9.5, 5),
    f('= ' + value, '14px "DejaVu Sans"', 19, 0)
  ] };
}

const SPEC_BAR = 1.2, RES_BAR = 1.6;

// ---- panel (a)
{
  const P = PANELS[0];
  const g0 = addGrid(P, P.specTop, P.specHeight, 'spec', false);
  series.push(modelLine(g0, A_TOTAL_E, A_TOTAL_F, BLACK, false));
  series.push(...pointSeries(g0, specData(A_OLIVE_E, A_OLIVE_F, pctToSig(A_OLIVE_F, A_OLIVE_ERR_PCT)), OLIVE, OLIVE, 2.5, SPEC_BAR));
  series.push(...pointSeries(g0, specData(A_BLUE_E, A_BLUE_F, pctToSig(A_BLUE_F, A_BLUE_ERR_PCT)), BLUE, BLUE, 2.5, SPEC_BAR));
  series.push(...pointSeries(g0, specData(A_PURPLE_E, A_PURPLE_F, A_PURPLE_SIG), PURPLE, PURPLE, 2.5, SPEC_BAR));
  series.push(modelLine(g0, A_RELXILL_E, A_RELXILL_F, RED, true));
  series.push(modelLine(g0, A_DISKBB_E, A_DISKBB_F, BLUE, true));
  for (let k = 0; k < 3; k++) {
    const gi = addGrid(P, P.resTops[k], P.resHeight, 'res', k === 2);
    series.push(...pointSeries(gi, resData(A_OLIVE_E, A_OLIVE_RES), OLIVE, OLIVE, 0, RES_BAR, true));
    series.push(...pointSeries(gi, resData(A_BLUE_E, A_BLUE_RES), BLUE, BLUE, 0, RES_BAR));
    series.push(...pointSeries(gi, resData(A_PURPLE_E, A_PURPLE_RES), PURPLE, PURPLE, 0, RES_BAR));
    graphics.push(label(452, P.resTops[k] + 8.5, A_MODEL_NAMES[k], 'bold 11.7px "DejaVu Sans"', RED, 'left'));
    graphics.push(chiLabel(566, P.resTops[k] + 88.5, A_CHI2[k]));
  }
  graphics.push(label(95, 15, '(a)', 'bold 16px "DejaVu Sans"', BLACK, 'left'));
  graphics.push(label(629, 14, 'P081404800601', 'bold 16px "DejaVu Sans"', BLACK, 'right'));
  graphics.push(label(121, 87.5, 'RELXILL', 'bold 13px "DejaVu Sans"', PURPLE, 'center', -18 * Math.PI / 180));
  graphics.push(label(321, 231.5, 'DISKBB', 'bold 13px "DejaVu Sans"', BLUE, 'center', -50 * Math.PI / 180));
}

// ---- panel (b)
{
  const P = PANELS[1];
  const g0 = addGrid(P, P.specTop, P.specHeight, 'spec', false);
  series.push(modelLine(g0, B_TOTAL_E, B_TOTAL_F, BLACK, false));
  series.push(...pointSeries(g0, specData(B_E, B_F, pctToSig(B_F, B_ERR_PCT)), GREEN, BLACK, 2.5, SPEC_BAR));
  series.push(modelLine(g0, B_RELXILL_E, B_RELXILL_F, RED, true));
  series.push(modelLine(g0, B_DISKBB_E, B_DISKBB_F, BLUE, true));
  const resSets = [[B_RES1, OLIVE], [B_RES2, OLIVE], [B_RES3, GREEN]];
  for (let k = 0; k < 3; k++) {
    const gi = addGrid(P, P.resTops[k], P.resHeight, 'res', k === 2);
    series.push(...pointSeries(gi, resData(B_E, resSets[k][0]), resSets[k][1], resSets[k][1], 0, RES_BAR, true));
    graphics.push(label(768, P.resTops[k] + 10, B_MODEL_NAMES[k], 'bold 11.7px "DejaVu Sans"', RED, 'left'));
    graphics.push(chiLabel(1254, P.resTops[k] + 12, B_CHI2[k]));
  }
  graphics.push(label(775, 23, '(b)', 'bold 16px "DejaVu Sans"', BLACK, 'left'));
  graphics.push(label(1285, 23, '91202308002', 'bold 16px "DejaVu Sans"', BLACK, 'right'));
  graphics.push(label(800, 78.5, 'RELXILL', 'bold 13px "DejaVu Sans"', PURPLE, 'center', -24 * Math.PI / 180));
  graphics.push(label(871.5, 191, 'DISKBB', 'bold 13px "DejaVu Sans"', BLUE, 'center', -37 * Math.PI / 180));
}

const chart = echarts.init(document.getElementById('chart'), null, { renderer: 'canvas' });
chart.setOption({
  animation: false,
  backgroundColor: '#ffffff',
  textStyle: { fontFamily: FONT },
  grid: grids,
  xAxis: xAxes,
  yAxis: yAxes,
  series: series,
  graphic: graphics
});
</script>
</body>
</html>
